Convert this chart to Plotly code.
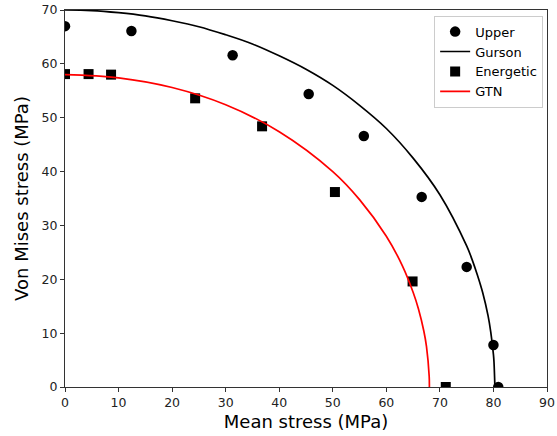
import plotly.graph_objects as go

# Upper bound data points
upper_x = [0.0, 12.4, 31.3, 45.5, 55.8, 66.6, 75.0, 80.0, 80.9]
upper_y = [67.0, 66.1, 61.6, 54.4, 46.6, 35.3, 22.3, 7.8, 0.0]

# Energetic data points
energ_x = [0.0, 4.4, 8.6, 24.3, 36.8, 50.4, 64.9, 71.1]
energ_y = [58.1, 58.1, 58.0, 53.6, 48.4, 36.2, 19.6, 0.0]

# Gurson yield curve
gurson_x = [0, 5, 10, 15, 20, 25, 30, 35, 40, 45, 50, 55, 60, 65, 70, 75, 76, 77, 78, 79, 79.5, 80, 80.1, 80.27]
gurson_y = [70.0, 69.9, 69.5, 68.9, 68.0, 66.9, 65.4, 63.7, 61.5, 59.0, 56.0, 52.3, 48.0, 42.5, 35.7, 26.2, 23.7, 20.8, 17.5, 13.2, 10.2, 6.0, 4.7, 0.0]

# GTN yield curve
gtn_x = [0, 10, 20, 30, 40, 50, 55, 60, 63, 65, 66, 67, 67.5, 68, 68.04]
gtn_y = [58.0, 57.4, 55.6, 52.4, 47.4, 40.0, 34.8, 28.0, 22.5, 17.6, 14.5, 10.4, 7.5, 2.0, 0.0]

font = "DejaVu Sans, Verdana, sans-serif"

fig = go.Figure()
fig.add_trace(go.Scatter(x=upper_x, y=upper_y, mode="markers", name="Upper",
                         marker=dict(symbol="circle", size=10.5, color="black")))
fig.add_trace(go.Scatter(x=gurson_x, y=gurson_y, mode="lines", name="Gurson",
                         line=dict(color="black", width=1.7, shape="spline")))
fig.add_trace(go.Scatter(x=energ_x, y=energ_y, mode="markers", name="Energetic",
                         marker=dict(symbol="square", size=10, color="black")))
fig.add_trace(go.Scatter(x=gtn_x, y=gtn_y, mode="lines", name="GTN",
                         line=dict(color="red", width=1.7, shape="spline")))

axis_common = dict(showgrid=False, zeroline=False, showline=True, mirror=True,
                   linecolor="#333", linewidth=1, ticks="outside", ticklen=4,
                   tickcolor="#333", automargin=False,
                   tickfont=dict(family=font, size=12.5, color="#222"))

fig.update_layout(
    width=557, height=436,
    margin=dict(l=65, r=10, t=10, b=49),
    paper_bgcolor="white", plot_bgcolor="white",
    font=dict(family=font, color="black"),
    xaxis=dict(range=[0, 90], dtick=10, title=dict(text="Mean stress (MPa)", font=dict(size=18), standoff=6), **axis_common),
    yaxis=dict(range=[0, 70], dtick=10, title=dict(text="Von Mises stress (MPa)", font=dict(size=18), standoff=8), **axis_common),
    legend=dict(x=0.992, y=0.985, xanchor="right", yanchor="top", bgcolor="white",
                bordercolor="#ccc", borderwidth=1, font=dict(size=13, family=font),
                tracegroupgap=0, itemwidth=30),
    showlegend=True,
)

fig.write_html("out.html")
